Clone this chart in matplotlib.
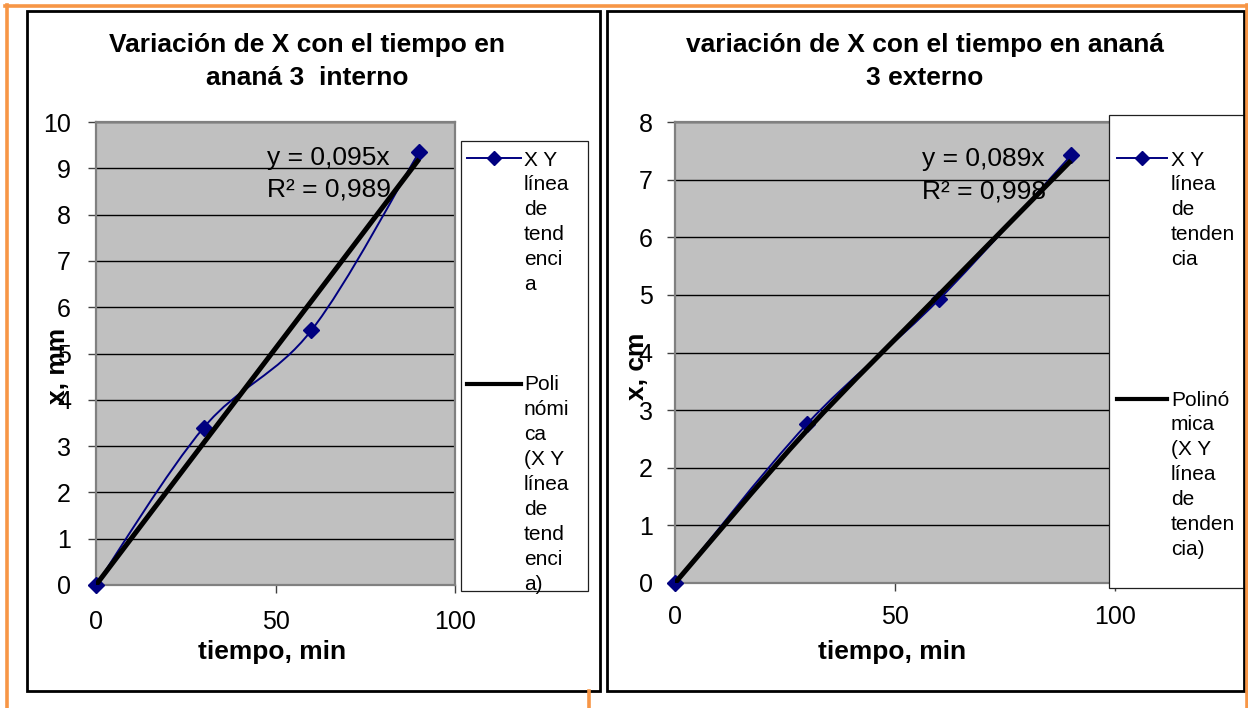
import numpy as np
import matplotlib
matplotlib.use("Agg")
import matplotlib.pyplot as plt
from matplotlib.path import Path
from matplotlib.patches import PathPatch, Rectangle
from matplotlib.lines import Line2D

# datos
tiempo = [0, 30, 60, 90]
x_interno = [0, 3.4, 5.5, 9.35]
x_externo = [0, 2.76, 4.92, 7.42]
tend_interno = [0, 3.07, 6.13, 9.2]
tend_externo = [0, 2.65, 5.0, 7.33]

titulos = [["Variación de X con el tiempo en", "ananá 3  interno"],
           ["variación de X con el tiempo en ananá", "3 externo"]]
ecuaciones = [["y = 0,095x", "R² = 0,989"], ["y = 0,089x", "R² = 0,998"]]
etiquetas_y = ["x, mm", "x, cm"]
leyenda_serie = [["X Y", "línea", "de", "tend", "enci", "a"],
                 ["X Y", "línea", "de", "tenden", "cia"]]
leyenda_tend = [["Poli", "nómi", "ca", "(X Y", "línea", "de", "tend", "enci", "a)"],
                ["Polinó", "mica", "(X Y", "línea", "de", "tenden", "cia)"]]
y_max = [10, 8]

W, H = 1248, 708
NAVY = "#000080"
ORANGE = "#F79646"

plt.rcParams["font.family"] = ["Liberation Sans", "DejaVu Sans"]


def fx(px):
    return px / W


def fy(py):
    return 1 - py / H


def smooth_path(xs, ys):
    # curva suavizada tipo Excel (Catmull-Rom como Bezier cúbica)
    pts = np.column_stack([xs, ys]).astype(float)
    n = len(pts)
    verts = [pts[0]]
    codes = [Path.MOVETO]
    for i in range(n - 1):
        p0 = pts[max(i - 1, 0)]
        p1 = pts[i]
        p2 = pts[i + 1]
        p3 = pts[min(i + 2, n - 1)]
        verts += [p1 + (p2 - p0) / 6, p2 - (p3 - p1) / 6, p2]
        codes += [Path.CURVE4] * 3
    return Path(verts, codes)


def text_lines(x, y_first, lines, pitch, **kw):
    for k, s in enumerate(lines):
        fig.text(fx(x), fy(y_first + k * pitch), s, va="center", **kw)


fig = plt.figure(figsize=(W / 100, H / 100), dpi=100)
fig.patch.set_facecolor("white")

# layout de cada panel (pixeles)
paneles = [
    dict(box=(27, 11, 600, 691), ax=(96, 122, 455, 585), title_x=307,
         eq=(267, 158), ylab_x=58, leg=(461, 141, 588, 591),
         leg_line=(467, 521), leg_y=(158, 384), leg_text_x=524, ypad=12),
    dict(box=(607, 11, 1244, 691), ax=(675, 122, 1115, 583), title_x=925,
         eq=(922, 159), ylab_x=637, leg=(1109, 115, 1250, 588),
         leg_line=(1117, 1167), leg_y=(158, 399), leg_text_x=1171, ypad=10),
]
series = [x_interno, x_externo]
tendencias = [tend_interno, tend_externo]

for i, p in enumerate(paneles):
    x0, y0, x1, y1 = p["ax"]
    ax = fig.add_axes([fx(x0), fy(y1), (x1 - x0) / W, (y1 - y0) / H])
    ax.set_facecolor("#C0C0C0")
    ax.set_xlim(0, 100)
    ax.set_ylim(0, y_max[i])
    ax.set_xticks([0, 50, 100])
    ax.set_yticks(range(0, y_max[i] + 1))
    ax.yaxis.grid(True, color="black", lw=1.0)
    ax.set_axisbelow(True)
    for s in ax.spines.values():
        s.set_color("#808080")
        s.set_linewidth(1.6)
    ax.tick_params(axis="both", direction="out", length=6, width=1.0,
                   color="#404040", labelsize=18, pad=p["ypad"])

    # serie suavizada
    ax.add_patch(PathPatch(smooth_path(tiempo, series[i]), facecolor="none",
                           edgecolor=NAVY, lw=1.4, zorder=3))
    ax.plot(tiempo, series[i], ls="none", marker="D", ms=8, color=NAVY,
            zorder=4, clip_on=False)
    # línea de tendencia
    ax.add_patch(PathPatch(smooth_path(tiempo, tendencias[i]), facecolor="none",
                           edgecolor="black", lw=3.6, zorder=5,
                           capstyle="butt"))

    # ecuación
    ex, ey = p["eq"]
    text_lines(ex, ey, ecuaciones[i], 32, fontsize=19, ha="left", zorder=10)

    # título
    text_lines(p["title_x"], 45, titulos[i], 33, fontsize=19,
               fontweight="bold", ha="center")

    # etiquetas de ejes
    fig.text(fx((x0 + x1) / 2 - 3), fy(652), "tiempo, min", fontsize=19,
             fontweight="bold", ha="center", va="center")
    fig.text(fx(p["ylab_x"]), fy(366), etiquetas_y[i], fontsize=19,
             fontweight="bold", ha="center", va="center", rotation=90)

    # leyenda
    lx0, ly0, lx1, ly1 = p["leg"]
    fig.patches.append(Rectangle((fx(lx0), fy(ly1)), (lx1 - lx0) / W,
                                 (ly1 - ly0) / H, transform=fig.transFigure,
                                 facecolor="white", edgecolor="#202020",
                                 lw=0.9, zorder=6))
    a, b = p["leg_line"]
    ya, yb = p["leg_y"]
    fig.lines.append(Line2D([fx(a), fx(b)], [fy(ya), fy(ya)], color=NAVY,
                            lw=1.4, transform=fig.transFigure, zorder=7))
    fig.lines.append(Line2D([fx((a + b) / 2)], [fy(ya)], color=NAVY, marker="D",
                            ms=7, transform=fig.transFigure, zorder=7))
    fig.lines.append(Line2D([fx(a), fx(b)], [fy(yb), fy(yb)], color="black",
                            lw=3.0, transform=fig.transFigure, zorder=7))
    text_lines(p["leg_text_x"], ya + 2, leyenda_serie[i], 24.9, fontsize=15,
               ha="left", zorder=8)
    text_lines(p["leg_text_x"], yb + 1, leyenda_tend[i], 24.9, fontsize=15,
               ha="left", zorder=8)

    # marco negro del gráfico
    bx0, by0, bx1, by1 = p["box"]
    fig.patches.append(Rectangle((fx(bx0), fy(by1)), (bx1 - bx0) / W,
                                 (by1 - by0) / H, transform=fig.transFigure,
                                 fill=False, edgecolor="black", lw=2.0,
                                 zorder=9))

# bordes naranjas de la tabla
for xs, ys in [([5, 1248], [6, 6]), ([6.5, 6.5], [5, 708]),
               ([589, 589], [691, 708]), ([1246.5, 1246.5], [5, 708])]:
    fig.lines.append(Line2D([fx(v) for v in xs], [fy(v) for v in ys],
                            color=ORANGE, lw=2.6, transform=fig.transFigure,
                            zorder=11))

fig.savefig("out.png", dpi=100)
